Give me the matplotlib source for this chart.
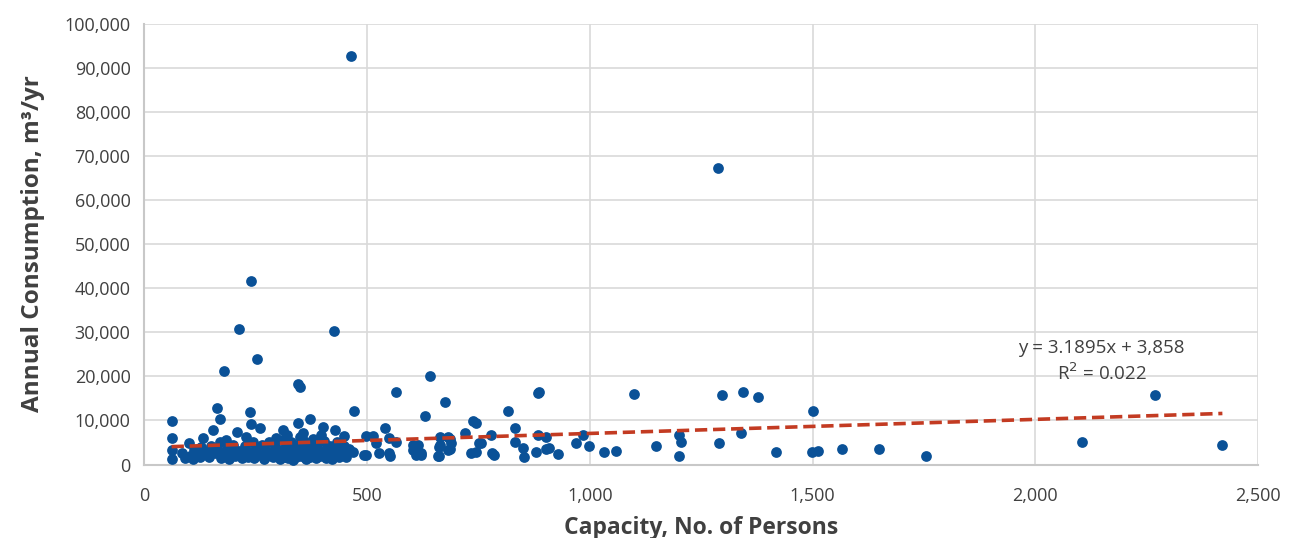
import numpy as np
import matplotlib
matplotlib.use('Agg')
import matplotlib.pyplot as plt
from matplotlib.ticker import FuncFormatter

# capacity (persons) and annual consumption (m3/yr)
capacity = [
    463, 1287, 240, 213, 426, 252, 179, 641, 345, 349, 565, 883, 886, 1100, 1296,
    1344, 1378, 2268, 675, 162, 470, 816, 1500, 236, 629, 169, 371, 61, 737, 745,
    345, 240, 259, 154, 539, 831, 401, 427, 311, 208, 356, 719, 1340, 779, 984,
    883, 901, 397, 449, 498, 513, 1201, 663, 681, 229, 61, 132, 550, 685, 184,
    169, 831, 1204, 565, 2105, 100, 520, 752, 969, 1289, 689, 756, 603, 614, 663,
    2420, 997, 1148, 661, 685, 850, 909, 1565, 1649, 901, 61, 1512, 1059, 681, 603,
    879, 468, 1417, 745, 1032, 1498, 734, 549, 526, 621, 928, 780, 494, 498, 610,
    620, 785, 853, 658, 661, 551, 1201, 1755, 61,
    85, 92, 102, 108, 112, 118, 125, 128, 138, 145, 150, 158, 166, 172, 176,
    186, 190, 194, 198, 204, 212, 218, 222, 226, 232, 238, 244, 246, 250, 260,
    265, 268, 272, 276, 280, 284, 288, 292, 296, 298, 302, 305, 308, 312, 315,
    318, 320, 322, 325, 328, 330, 333, 336, 338, 341, 344, 347, 350, 352, 355,
    358, 360, 363, 366, 369, 372, 375, 378, 381, 385, 388, 392, 395, 398, 402,
    405, 408, 412, 416, 420, 424, 428, 432, 436, 440, 444, 448, 452, 456, 460,
]
consumption = [
    92600, 67300, 41700, 30700, 30300, 24000, 21300, 20100, 18200, 17500, 16500, 16200, 16500, 16100, 15800,
    16400, 15400, 15700, 14100, 12900, 12200, 12200, 12200, 11800, 11000, 10300, 10300, 9800, 9900, 9400,
    9500, 9100, 8200, 7800, 8300, 8300, 8600, 7800, 7800, 7400, 7100, 7200, 7100, 6800, 6700,
    6700, 6300, 6700, 6500, 6500, 6500, 6700, 6200, 6200, 6300, 5900, 5900, 5900, 5700, 5600,
    5200, 5200, 5200, 5200, 5100, 4900, 4800, 4800, 4800, 4800, 4800, 4800, 4400, 4400, 4400,
    4400, 4300, 4300, 4000, 3500, 3700, 3700, 3500, 3500, 3500, 3400, 3100, 3100, 3300, 3300,
    2900, 2900, 2900, 2900, 2800, 2800, 2500, 2500, 2500, 2500, 2400, 2500, 2100, 2200, 2100,
    2200, 2100, 1800, 1900, 2000, 1900, 1900, 1900, 1200,
    2600, 1500, 2000, 1300, 3200, 2400, 1600, 3900, 2800, 1800, 4200, 2500, 3300, 1500, 2200,
    3600, 1300, 2700, 4500, 1900, 3100, 1400, 2300, 4200, 1700, 2900, 5000, 1500, 3700, 2200,
    4400, 1300, 3000, 1900, 5200, 2600, 1600, 4000, 6000, 2200, 3400, 1200, 5500, 2700, 1800,
    4600, 6600, 1400, 3100, 2100, 5000, 1000, 3800, 2500, 1600, 4400, 2900, 6200, 1900, 3400,
    5300, 2300, 1300, 4100, 2700, 1700, 3600, 5800, 2200, 1400, 4700, 3000, 1900, 2600, 5400,
    3300, 1500, 2300, 4300, 1200, 3700, 2600, 5100, 1800, 3200, 2400, 4100, 1600, 2900, 3500,
]

# linear trendline as reported on the chart
slope = 3.1895
intercept = 3858
r_squared = 0.022

x_ticks = [0, 500, 1000, 1500, 2000, 2500]
y_ticks = list(range(0, 100001, 10000))

plt.rcParams['font.family'] = ['Open Sans', 'DejaVu Sans']

fig = plt.figure(figsize=(12.92, 5.38), dpi=100)
ax = fig.add_axes([0.1118, 0.1366, 0.8619, 0.8197])

ax.scatter(capacity, consumption, s=60, color='#0a5197', zorder=3, linewidths=0)

xs = np.array([min(capacity), max(capacity)])
ax.plot(xs, slope * xs + intercept, color='#c33b22', lw=2.6, ls=(0, (3.4, 1.6)), zorder=4)

ax.text(2149, 23400, 'y = 3.1895x + 3,858\nR$^2$ = 0.022', ha='center', va='center',
        fontsize=13.5, color='#404040', linespacing=1.3)

ax.set_xlim(0, 2500)
ax.set_ylim(0, 100000)
ax.set_xticks(x_ticks)
ax.set_yticks(y_ticks)
fmt = FuncFormatter(lambda v, p: '{:,.0f}'.format(v))
ax.xaxis.set_major_formatter(fmt)
ax.yaxis.set_major_formatter(fmt)
ax.tick_params(length=0, labelsize=13, labelcolor='#404040')
ax.tick_params(axis='x', pad=16)
ax.tick_params(axis='y', pad=10)

ax.grid(True, color='#d9d9d9', lw=1.2, zorder=0)
ax.set_axisbelow(True)
for side in ['top', 'right']:
    ax.spines[side].set_visible(False)
for side in ['left', 'bottom']:
    ax.spines[side].set_color('#c8c8c8')
    ax.spines[side].set_linewidth(1.5)

ax.set_xlabel('Capacity, No. of Persons', fontsize=16.5, fontweight='bold', color='#404040', labelpad=8)
ax.set_ylabel('Annual Consumption, m³/yr', fontsize=17.5, fontweight='bold', color='#404040', labelpad=14)

fig.savefig('out.png', dpi=100)
